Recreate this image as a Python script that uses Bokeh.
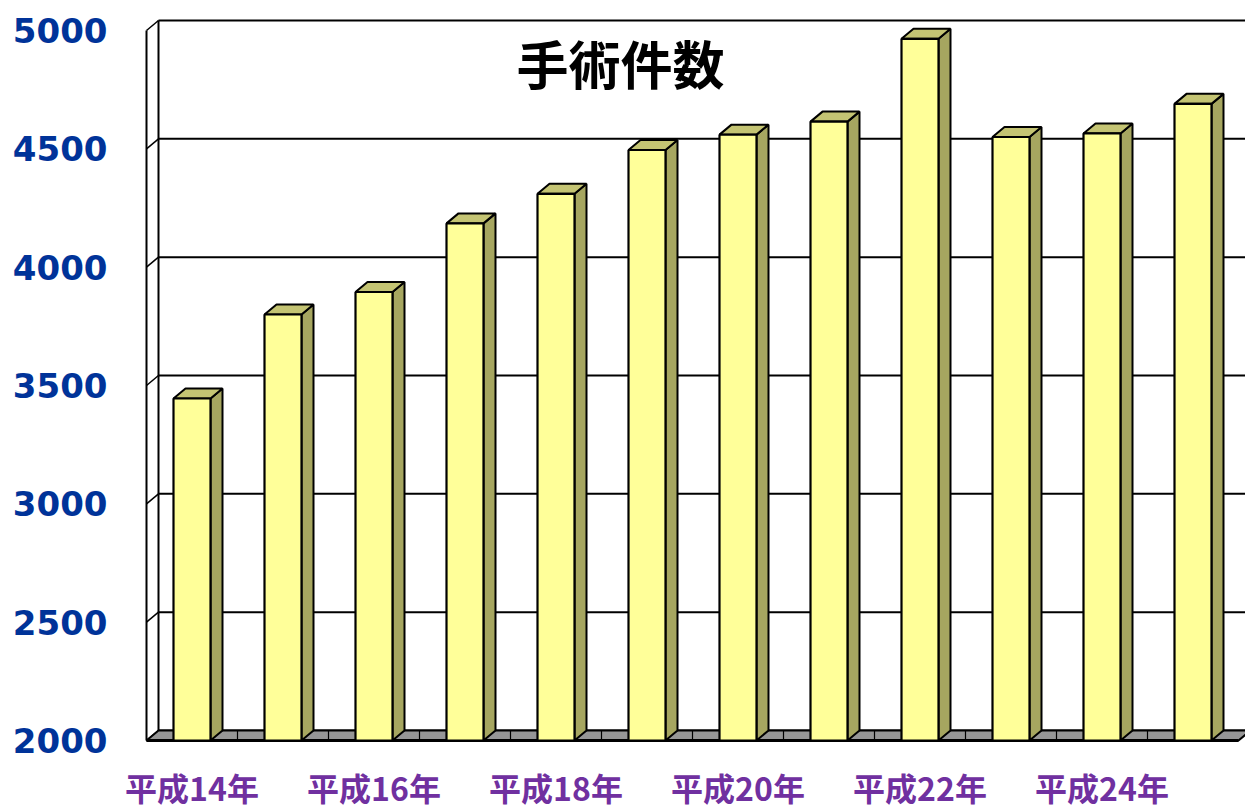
from bokeh.plotting import figure
from bokeh.models import Range1d
from bokeh.core.properties import value
from bokeh.embed import file_html
from bokeh.resources import INLINE

# ---- data ----
chart_title = "手術件数"
years = ["平成14年", "平成15年", "平成16年", "平成17年", "平成18年", "平成19年",
         "平成20年", "平成21年", "平成22年", "平成23年", "平成24年", "平成25年"]
counts = [3445, 3800, 3895, 4185, 4310, 4495, 4560, 4615, 4965, 4550, 4565, 4690]
y_ticks = [2000, 2500, 3000, 3500, 4000, 4500, 5000]
shown_labels = [0, 2, 4, 6, 8, 10]

# ---- geometry (pixels) ----
W, H = 1245, 812
X0_PX = 146        # front-left corner
CAT_PX = 91        # category width
BASE_PX = 740      # y pixel of 2000 on the front plane
PPU = 710 / 3000   # pixels per unit
DEPTH_X_PX, DEPTH_Y_PX = 12, 10
BAR_W = 37 / CAT_PX
Y0 = 2000
YTOP = 5000

dx = DEPTH_X_PX / CAT_PX
dy = DEPTH_Y_PX / PPU
n = len(counts)

x_range = Range1d(-X0_PX / CAT_PX, (W - X0_PX) / CAT_PX)
y_range = Range1d(Y0 - (H - BASE_PX) / PPU, Y0 + BASE_PX / PPU)

p = figure(width=W, height=H, x_range=x_range, y_range=y_range,
           output_backend="svg", toolbar_location=None,
           x_axis_type=None, y_axis_type=None, min_border=0,
           outline_line_color=None, background_fill_color="white",
           border_fill_color="white")
p.grid.visible = False

LINE = "black"
xe = x_range.end + 1

# back wall gridlines
p.segment(x0=[dx] * len(y_ticks), y0=[v + dy for v in y_ticks],
          x1=[xe] * len(y_ticks), y1=[v + dy for v in y_ticks],
          line_color=LINE, line_width=2)
# left side wall
p.segment(x0=[0] * len(y_ticks), y0=y_ticks,
          x1=[dx] * len(y_ticks), y1=[v + dy for v in y_ticks],
          line_color=LINE, line_width=1.5)
p.segment(x0=[0, dx], y0=[Y0, Y0 + dy], x1=[0, dx], y1=[YTOP, YTOP + dy],
          line_color=LINE, line_width=2)

# floor
p.patch([0, n, n + dx, dx], [Y0, Y0, Y0 + dy, Y0 + dy],
        fill_color="#969696", line_color=LINE, line_width=2)
p.segment(x0=list(range(1, n)), y0=[Y0] * (n - 1),
          x1=list(range(1, n)), y1=[Y0 + dy] * (n - 1),
          line_color=LINE, line_width=1.2)
p.segment(x0=[0], y0=[Y0], x1=[n], y1=[Y0], line_color=LINE, line_width=3)

# bars
lefts = [i + 0.5 - BAR_W / 2 for i in range(n)]
rights = [i + 0.5 + BAR_W / 2 for i in range(n)]
side_xs = [[r, r + dx, r + dx, r] for r in rights]
side_ys = [[Y0, Y0 + dy, v + dy, v] for v in counts]
top_xs = [[l, r, r + dx, l + dx] for l, r in zip(lefts, rights)]
top_ys = [[v, v, v + dy, v + dy] for v in counts]

p.patches(side_xs, side_ys, fill_color="#A6A660", line_color=LINE, line_width=2)
p.patches(top_xs, top_ys, fill_color="#C4C473", line_color=LINE, line_width=2)
p.quad(left=lefts, right=rights, bottom=[Y0] * n, top=counts,
       fill_color="#FFFF99", line_color=LINE, line_width=2.2)

# title
p.text(x=[(620 - X0_PX) / CAT_PX], y=[Y0 + (BASE_PX - 62) / PPU], text=[chart_title],
       text_font=value("Noto Sans CJK JP"), text_font_style="bold",
       text_font_size="52px", text_color="black",
       text_align="center", text_baseline="middle")

# y tick labels
p.text(x=[(107 - X0_PX) / CAT_PX] * len(y_ticks), y=y_ticks,
       text=[str(v) for v in y_ticks],
       text_font=value("DejaVu Sans"), text_font_style="bold",
       text_font_size="34px", text_color="#003399",
       text_align="right", text_baseline="middle")

# x tick labels
p.text(x=[i + 0.5 for i in shown_labels],
       y=[Y0 - (786 - BASE_PX) / PPU] * len(shown_labels),
       text=[years[i] for i in shown_labels],
       text_font=value("Noto Sans CJK JP"), text_font_style="bold",
       text_font_size="32px", text_color="#7030A0",
       text_align="center", text_baseline="middle")

open("out.html", "w").write(file_html(p, INLINE))
